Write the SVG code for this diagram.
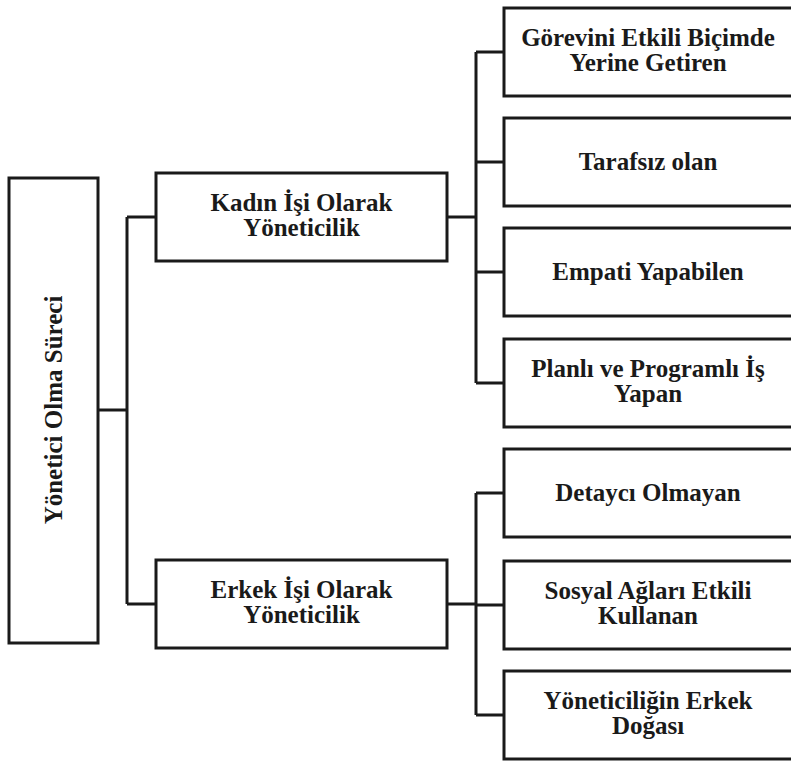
<svg xmlns="http://www.w3.org/2000/svg" width="791" height="761" viewBox="0 0 791 761">
<style>
.box{fill:#fff;stroke:#1a1a1a;stroke-width:3}
.con{fill:none;stroke:#1a1a1a;stroke-width:3}
text{font-family:"Liberation Serif","Times New Roman",serif;font-weight:bold;font-size:25px;fill:#1a1a1a;text-anchor:middle}
</style>
<rect width="791" height="761" fill="#fff"/>
<g id="connectors">
<path class="con" d="M98 410H127M127 217V604M127 217H156M127 604H156"/>
<path class="con" d="M447 217H476M476 52V383M476 52H504M476 162H504M476 272H504M476 383H504"/>
<path class="con" d="M447 604H476M476 493V715M476 493H504M476 605H504M476 715H504"/>
</g>
<g id="root">
<rect class="box" x="9" y="178" width="89" height="465"/>
<text transform="translate(62 410) rotate(-90)">Yönetici Olma Süreci</text>
</g>
<g id="kadin">
<rect class="box" x="156" y="173" width="291" height="88"/>
<text x="301.5" y="211">Kadın İşi Olarak</text>
<text x="301.5" y="236">Yöneticilik</text>
</g>
<g id="erkek">
<rect class="box" x="156" y="560" width="291" height="88"/>
<text x="301.5" y="598">Erkek İşi Olarak</text>
<text x="301.5" y="623">Yöneticilik</text>
</g>
<g id="k1">
<rect class="box" x="504" y="8" width="290" height="88"/>
<text x="648" y="46">Görevini Etkili Biçimde</text>
<text x="648" y="71">Yerine Getiren</text>
</g>
<g id="k2">
<rect class="box" x="504" y="118" width="290" height="88"/>
<text x="648" y="170">Tarafsız olan</text>
</g>
<g id="k3">
<rect class="box" x="504" y="228" width="290" height="88"/>
<text x="648" y="280">Empati Yapabilen</text>
</g>
<g id="k4">
<rect class="box" x="504" y="339" width="290" height="88"/>
<text x="648" y="377">Planlı ve Programlı İş</text>
<text x="648" y="402">Yapan</text>
</g>
<g id="e1">
<rect class="box" x="504" y="449" width="290" height="88"/>
<text x="648" y="501">Detaycı Olmayan</text>
</g>
<g id="e2">
<rect class="box" x="504" y="561" width="290" height="88"/>
<text x="648" y="599">Sosyal Ağları Etkili</text>
<text x="648" y="624">Kullanan</text>
</g>
<g id="e3">
<rect class="box" x="504" y="671" width="290" height="88"/>
<text x="648" y="709">Yöneticiliğin Erkek</text>
<text x="648" y="734">Doğası</text>
</g>
</svg>
